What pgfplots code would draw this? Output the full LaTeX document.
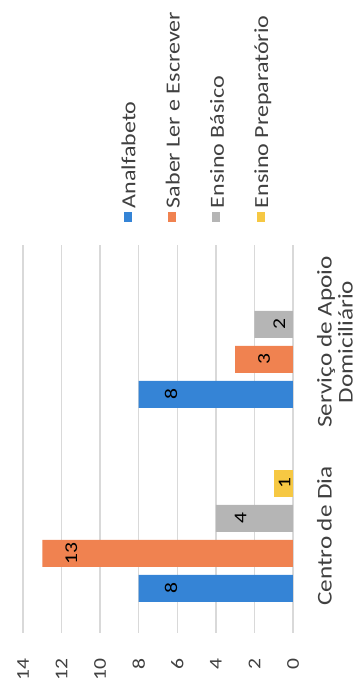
\documentclass[border=0pt]{standalone}
\usepackage{fontspec}
\setmainfont{Carlito}
\usepackage{pgfplots}
\pgfplotsset{compat=1.18}
\definecolor{cblue}{HTML}{3584D6}
\definecolor{corange}{HTML}{F08250}
\definecolor{cgray}{HTML}{B5B5B5}
\definecolor{cyellow}{HTML}{F6C843}
\definecolor{gridc}{HTML}{D9D9D9}
\definecolor{txt}{HTML}{404040}
\begin{document}
\begin{tikzpicture}
\useasboundingbox (-181pt,0pt) rectangle (0pt,345.5pt);
\begin{scope}[transform canvas={rotate=90, xscale=1.2}]
\begin{axis}[
  at={(24.17pt,34.5pt)}, anchor=south west,
  scale only axis, width=161.67pt, height=135pt,
  ybar, bar width=11.25pt,
  xmin=-0.5, xmax=1.5, xtick={0,1},
  xticklabels={Centro de Dia,{Serviço de Apoio\\Domiciliário}},
  ymin=0, ymax=14, ytick={0,2,4,6,8,10,12,14},
  ymajorgrids, major grid style={draw=gridc, line width=0.7pt},
  axis line style={draw=none},
  major tick length=0pt,
  tick style={draw=none},
  /pgf/number format/assume math mode=true,
  yticklabel style={anchor=east, xshift=-7pt, font=\fontsize{9}{10}\selectfont, text=txt},
  xticklabel style={anchor=north, yshift=-8.5pt, align=center, font=\fontsize{10.5}{10.5}\selectfont, text=txt},
  nodes near coords,
  nodes near coords style={anchor=north, font=\fontsize{9}{10}\selectfont, text=black},
  legend style={at={(1.0567,0.648)}, anchor=north west, draw=none, fill=none, inner sep=0pt,
    font=\fontsize{10}{11}\selectfont, text=txt, row sep=10.1pt,
    nodes={inner sep=1.5pt, text height=7pt, text depth=2pt}},
  legend cell align=left,
  legend image code/.code={\fill[#1, draw=none] (0pt,-0.8pt) rectangle (4.5pt,3.2pt);},
]
\addplot[fill=cblue, draw=none, bar shift=-21.875pt, nodes near coords style={yshift=-9.5pt}] coordinates {(0,8) (1,8)};
\addplot[fill=corange, draw=none, bar shift=-7.29pt, nodes near coords style={yshift=-8pt}] coordinates {(0,13) (1,3)};
\addplot[fill=cgray, draw=none, bar shift=7.29pt, nodes near coords style={yshift=-6pt}] coordinates {(0,4) (1,2)};
\addplot[fill=cyellow, draw=none, bar shift=21.875pt, nodes near coords style={yshift=1pt}] coordinates {(0,1)};
\legend{Analfabeto, Saber Ler e Escrever, Ensino Básico, Ensino Preparatório}
\end{axis}
\end{scope}
\end{tikzpicture}
\end{document}
